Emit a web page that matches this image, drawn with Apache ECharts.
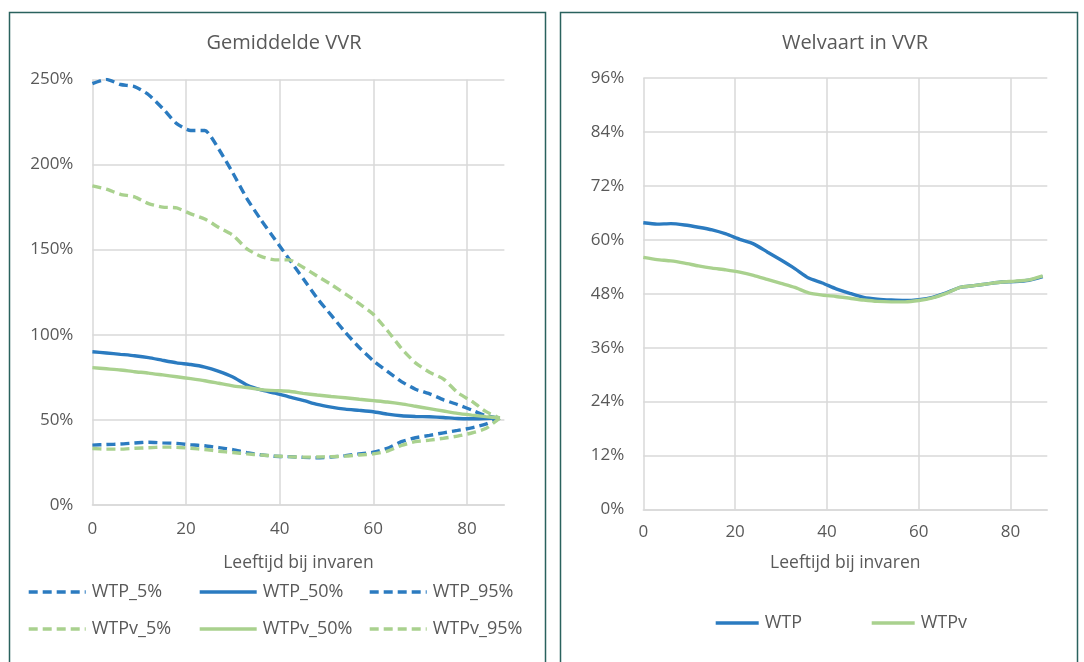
<!DOCTYPE html>
<html><head><meta charset="utf-8">
<script src="https://cdn.jsdelivr.net/npm/echarts@6/dist/echarts.min.js"></script>
<style>html,body{margin:0;padding:0;background:#fff}#c{width:1084px;height:662px}</style>
</head><body><div id="c"></div>
<script>
// Age at entry (Leeftijd bij invaren)
const ages = [0,3,6,9,12,15,18,21,24,27,30,33,36,39,42,45,48,51,54,57,60,63,66,69,72,75,78,81,84,87];

// Left chart: Gemiddelde VVR (%)
const WTP_5   = [35.2,35.5,35.8,36.4,36.9,36.5,36.2,35.4,34.8,33.7,32.5,30.8,29.5,28.6,28.4,28.0,27.7,28.2,29.0,30.0,31.0,33.3,37.2,39.5,40.9,42.4,43.8,45.3,47.5,51.0];
const WTP_50  = [90.0,89.3,88.5,87.7,86.6,85.0,83.5,82.5,81.0,78.5,75.2,70.5,67.6,65.7,63.5,61.5,59.1,57.5,56.3,55.6,54.8,53.4,52.4,52.0,51.8,51.4,50.8,50.7,50.8,51.2];
const WTP_95  = [247.5,250.0,247.0,245.8,241.0,233.0,224.0,220.0,220.0,209.0,195.0,180.0,167.5,156.0,144.5,133.0,121.5,111.5,101.5,92.5,84.7,78.5,72.5,68.0,65.3,61.8,59.0,55.8,52.5,51.0];
const WTPv_5  = [33.2,32.8,32.8,33.3,33.6,34.0,33.9,33.3,32.6,31.6,30.8,30.0,29.4,28.8,28.4,28.1,28.2,28.4,28.7,29.4,30.0,31.6,35.0,37.2,38.1,39.2,40.5,42.3,44.9,51.0];
const WTPv_50 = [80.7,80.0,79.3,78.3,77.5,76.4,75.3,74.2,73.0,71.5,70.0,69.0,67.8,67.2,66.8,65.6,64.6,63.7,63.0,62.1,61.3,60.5,59.4,58.0,56.6,55.2,53.8,52.8,51.9,51.2];
const WTPv_95 = [187.5,185.5,182.5,181.0,177.0,175.0,174.5,171.0,168.0,163.0,158.5,150.5,146.0,144.0,144.0,139.6,134.5,129.5,124.0,118.3,112.0,102.5,92.0,83.5,78.0,74.0,66.0,61.0,55.0,51.0];

// Right chart: Welvaart in VVR (%)
const WTP  = [63.8,63.5,63.6,63.3,62.8,62.2,61.3,60.1,59.1,57.3,55.5,53.6,51.5,50.4,49.1,48.1,47.2,46.8,46.6,46.5,46.7,47.2,48.2,49.4,49.8,50.2,50.6,50.7,51.0,51.8];
const WTPv = [56.1,55.6,55.3,54.8,54.2,53.7,53.3,52.8,52.1,51.2,50.3,49.4,48.2,47.7,47.4,47.0,46.6,46.3,46.2,46.2,46.5,47.1,48.1,49.4,49.8,50.2,50.6,50.8,51.1,52.0];

const FONT = '"Open Sans", sans-serif';
const GRAY = '#595959';
const GRID = '#D9D9D9';
const BLUE = '#2B7BC0';
const GREEN = '#A9D18E';
const DASH = [9, 5];
const LW = 3.4;

function pts(xs, ys) { return xs.map((x, i) => [x, ys[i]]); }

function xAx(gi, margin, gap) {
  return {
    type: 'value', gridIndex: gi, min: 0, max: 88, interval: 20,
    name: 'Leeftijd bij invaren', nameLocation: 'middle', nameGap: gap,
    nameTextStyle: { fontFamily: FONT, fontSize: 17.5, color: GRAY },
    axisLine: { show: true, lineStyle: { color: GRID, width: 1.5 } },
    axisTick: { show: false },
    axisLabel: { fontFamily: FONT, fontSize: 17, color: GRAY, margin: margin, showMaxLabel: false },
    splitLine: { show: true, showMaxLine: false, lineStyle: { color: GRID, width: 1.5 } }
  };
}
function yAx(gi, max, interval) {
  return {
    type: 'value', gridIndex: gi, min: 0, max: max, interval: interval,
    axisLine: { show: false }, axisTick: { show: false },
    axisLabel: { fontFamily: FONT, fontSize: 17, color: GRAY, margin: 19, formatter: '{value}%' },
    splitLine: { show: true, lineStyle: { color: GRID, width: 1.5 } }
  };
}
function ser(name, gi, ys, color, dashed) {
  return {
    name: name, type: 'line', xAxisIndex: gi, yAxisIndex: gi,
    data: pts(ages, ys), symbol: 'none', showSymbol: false, smooth: 0.2,
    lineStyle: { width: LW, color: color, type: dashed ? DASH : 'solid' },
    itemStyle: { color: color }, animation: false
  };
}
function leg(name, left, top, w) {
  return {
    data: [name], left: left, top: top, itemWidth: w, itemHeight: 14, padding: 0,
    itemGap: 6, selectedMode: false,
    itemStyle: { opacity: 0, borderWidth: 0 },
    lineStyle: { width: LW },
    textStyle: { fontFamily: FONT, fontSize: 18, color: GRAY, padding: [0, 0, 0, 1] }
  };
}

const chart = echarts.init(document.getElementById('c'), null, { renderer: 'canvas' });
chart.setOption({
  backgroundColor: '#fff',
  animation: false,
  title: [
    { text: 'Gemiddelde VVR', left: 284, top: 33, textAlign: 'center', padding: 0,
      textStyle: { fontFamily: FONT, fontSize: 20, fontWeight: 'normal', color: GRAY } },
    { text: 'Welvaart in VVR', left: 855, top: 33, textAlign: 'center', padding: 0,
      textStyle: { fontFamily: FONT, fontSize: 20, fontWeight: 'normal', color: GRAY } }
  ],
  graphic: [
    { type: 'rect', silent: true, shape: { x: 9.5, y: 12.5, width: 536, height: 700 },
      style: { fill: 'none', stroke: '#2A625E', lineWidth: 1.5 } },
    { type: 'rect', silent: true, shape: { x: 560.5, y: 12.5, width: 517, height: 700 },
      style: { fill: 'none', stroke: '#2A625E', lineWidth: 1.5 } }
  ],
  grid: [
    { left: 92.4, top: 79.4, width: 412, height: 425.6, containLabel: false, outerBoundsMode: 'none' },
    { left: 643.3, top: 78, width: 404, height: 431.5, containLabel: false, outerBoundsMode: 'none' }
  ],
  xAxis: [xAx(0, 16, 49), xAx(1, 14.5, 44.5)],
  yAxis: [yAx(0, 250, 50), yAx(1, 96, 12)],
  legend: [
    leg('WTP_5%', 27, 583, 57), leg('WTP_50%', 198, 583, 57), leg('WTP_95%', 368, 583, 57),
    leg('WTPv_5%', 27, 620, 57), leg('WTPv_50%', 198, 620, 57), leg('WTPv_95%', 368, 620, 57),
    leg('WTP', 714, 614, 43), leg('WTPv', 870, 614, 43)
  ],
  series: [
    ser('WTP_5%', 0, WTP_5, BLUE, true),
    ser('WTP_50%', 0, WTP_50, BLUE, false),
    ser('WTP_95%', 0, WTP_95, BLUE, true),
    ser('WTPv_5%', 0, WTPv_5, GREEN, true),
    ser('WTPv_50%', 0, WTPv_50, GREEN, false),
    ser('WTPv_95%', 0, WTPv_95, GREEN, true),
    ser('WTP', 1, WTP, BLUE, false),
    ser('WTPv', 1, WTPv, GREEN, false)
  ]
});
</script>
</body></html>
